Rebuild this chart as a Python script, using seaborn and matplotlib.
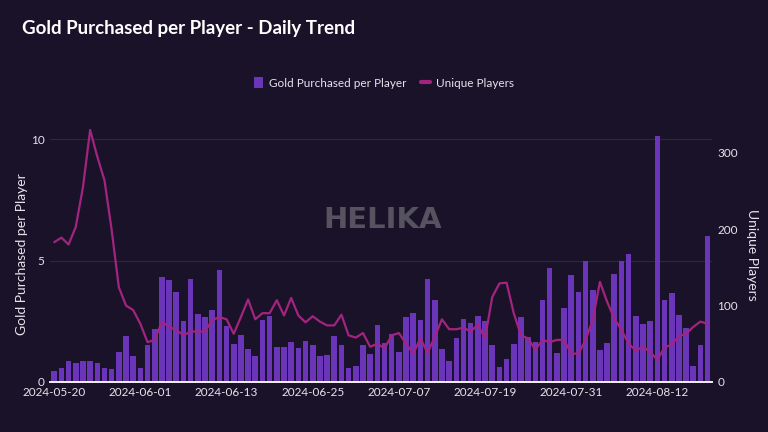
import numpy as np
import pandas as pd
import matplotlib
matplotlib.use("Agg")
import matplotlib.pyplot as plt
import seaborn as sns
from matplotlib.patches import Patch
from matplotlib.lines import Line2D

# daily values
dates = pd.date_range("2024-05-20", "2024-08-19", freq="D")

gold_per_player = [
    0.44, 0.59, 0.84, 0.76, 0.84, 0.84, 0.76, 0.59, 0.52, 1.22,
    1.90, 1.06, 0.59, 1.54, 2.17, 4.31, 4.19, 3.71, 2.50, 4.23,
    2.80, 2.68, 2.95, 4.59, 2.29, 1.55, 1.94, 1.35, 1.06, 2.54,
    2.72, 1.43, 1.43, 1.66, 1.39, 1.70, 1.51, 1.06, 1.10, 1.90,
    1.51, 0.59, 0.67, 1.51, 1.15, 2.34, 1.59, 1.98, 1.24, 2.68,
    2.82, 2.57, 4.23, 3.37, 1.35, 0.88, 1.79, 2.61, 2.43, 2.72,
    2.50, 1.51, 0.63, 0.95, 1.58, 2.68, 1.85, 1.66, 3.37, 4.70,
    1.18, 3.04, 4.42, 3.71, 4.97, 3.79, 1.30, 1.62, 4.46, 4.97,
    5.25, 2.72, 2.38, 2.49, 10.12, 3.39, 3.67, 2.76, 2.21, 0.67,
    1.50, 6.00,
]

unique_players = [
    183, 189, 180, 203, 255, 330, 295, 264, 199, 124,
    100, 94, 76, 52, 55, 79, 72, 68, 61, 66,
    66, 66, 81, 85, 82, 63, 85, 108, 82, 90,
    90, 107, 87, 110, 87, 78, 86, 79, 74, 74,
    88, 61, 58, 64, 46, 50, 44, 61, 64, 50,
    37, 57, 38, 59, 82, 69, 69, 71, 66, 75,
    57, 111, 129, 130, 90, 61, 57, 42, 55, 52,
    55, 55, 37, 37, 55, 81, 131, 105, 83, 68,
    50, 41, 46, 39, 29, 45, 49, 60, 63, 72,
    79, 76,
]

df = pd.DataFrame({"idx": np.arange(len(dates)),
                   "date": dates.strftime("%Y-%m-%d"),
                   "gold": gold_per_player,
                   "players": unique_players})

bg = "#1a1229"
bar_color = "#6a35b8"
line_color = "#a3247f"
text_color = "#e6e3ec"
grid_color = "#2f2742"

sns.set_theme(style="dark")
plt.rcParams["font.family"] = ["Lato", "DejaVu Sans"]

fig = plt.figure(figsize=(7.68, 4.32), dpi=100, facecolor=bg)
ax = fig.add_axes([0.065, 0.116, 0.862, 0.59])
ax.set_facecolor(bg)

sns.barplot(data=df, x="idx", y="gold", color=bar_color, width=0.78,
            saturation=1, edgecolor="none", linewidth=0, ax=ax)
ax.set_xlim(-0.6, len(dates) - 0.4)
ax.set_ylim(0, 10.5)
ax.set_yticks([0, 5, 10])
ax.yaxis.grid(True, color=grid_color, linewidth=0.8)
ax.set_axisbelow(True)

tick_idx = list(range(0, len(dates), 12))
ax.set_xticks(tick_idx)
ax.set_xticklabels([df["date"][i] for i in tick_idx])

ax2 = ax.twinx()
sns.lineplot(data=df, x="idx", y="players", color=line_color, linewidth=1.6, ax=ax2)
ax2.set_ylim(0, 10.5 * 31.8)
ax2.set_yticks([0, 100, 200, 300])
ax2.grid(False)

for a in (ax, ax2):
    for s in a.spines.values():
        s.set_visible(False)
    a.tick_params(colors=text_color, labelsize=8.5, length=0, pad=4)
ax.spines["bottom"].set_visible(True)
ax.spines["bottom"].set_color("#f2f0f5")
ax.spines["bottom"].set_linewidth(1.4)

ax.set_xlabel("")
ax.set_ylabel("Gold Purchased per Player", color=text_color, fontsize=10, labelpad=2)
ax2.set_ylabel("Unique Players", color=text_color, fontsize=10, rotation=270, labelpad=14)

fig.text(0.029, 0.935, "Gold Purchased per Player - Daily Trend", color="white",
         fontsize=13.5, fontweight="bold", va="center")
fig.text(0.498, 0.49, "HELIKA", color="#56525f", fontsize=21, fontweight="bold",
         family="DejaVu Sans", ha="center", va="center", zorder=0)

handles = [Patch(facecolor=bar_color, edgecolor="none", label="Gold Purchased per Player"),
           Line2D([0], [0], color=line_color, linewidth=3, label="Unique Players")]
fig.legend(handles=handles, loc="center", bbox_to_anchor=(0.5, 0.808), ncol=2,
           frameon=False, fontsize=8.5, labelcolor=text_color, handlelength=0.8,
           handleheight=1.1, columnspacing=1.2, handletextpad=0.5)

fig.savefig("out.png", dpi=100, facecolor=bg)
